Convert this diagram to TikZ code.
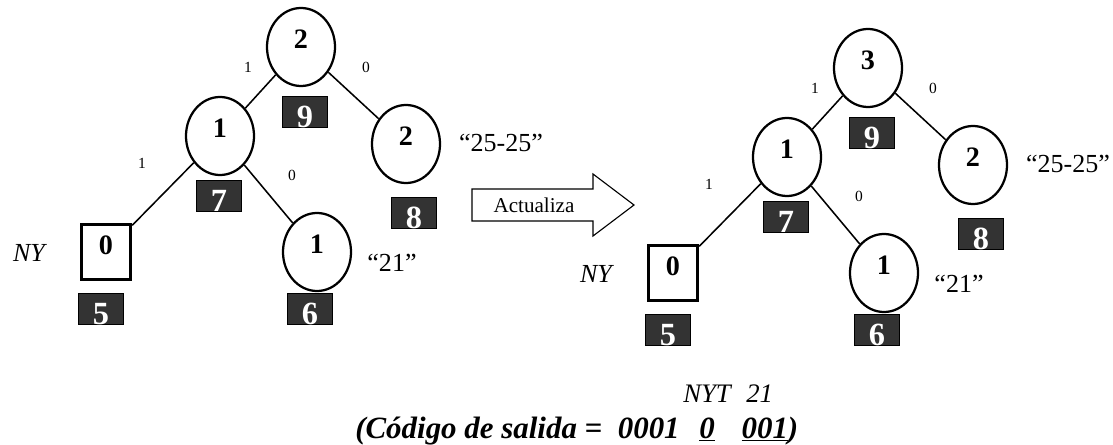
\documentclass[tikz,border=0pt]{standalone}
\usepackage{fontspec}
\setmainfont{Liberation Serif}
\usepackage{tikz}
\usetikzlibrary{shapes.geometric}
\definecolor{grisorden}{HTML}{333333}
\tikzset{
    peso/.style = {ellipse, draw, line width=1.6pt, minimum width=1.7cm, minimum height=1.95cm,
                   inner sep=0pt, font=\fontsize{20}{20}\selectfont\bfseries,
                   text height=0.48cm, text depth=0.4cm},
    nyt/.style = {rectangle, draw, line width=2.4pt, minimum width=1.225cm, minimum height=1.375cm,
                  inner sep=0pt, font=\fontsize{20}{20}\selectfont\bfseries,
                  text height=0.52cm, text depth=0.4cm},
    orden/.style = {rectangle, draw, line width=0.6pt, fill=grisorden, text=white,
                    minimum width=1.125cm, minimum height=0.775cm, inner sep=0pt,
                    font=\fontsize{23}{23}\selectfont\bfseries, text height=0.76cm, text depth=0pt},
    bit/.style = {inner sep=0pt, font=\fontsize{11}{12}\selectfont},
    rotulo/.style = {inner sep=0pt, font=\fontsize{18.5}{18.5}\selectfont},
    rama/.style = {line width=1.1pt}
}

% arbol de Huffman adaptativo: #1 sufijo de los nombres, #2 peso de la raiz
\newcommand{\arbol}[2]{
    \node[peso] (raiz#1) at (301,47) {#2};
    \node[peso] (int#1) at (220,136) {1};
    \node[peso] (der#1) at (406,144) {2};
    \node[peso] (hoja#1) at (317,252) {1};
    \node[nyt] (nyt#1) at (106,252) {0};
    \node[orden] (n9#1) at (305,112) {9};
    \node[orden] (n7#1) at (219,196) {7};
    \node[orden] (n8#1) at (414,213) {8};
    \node[orden] (n5#1) at (101,309) {5};
    \node[orden] (n6#1) at (310,309) {6};
    \draw[rama] (raiz#1) -- (int#1)
                (raiz#1) -- (der#1)
                (int#1) -- (nyt#1)
                (int#1) -- (hoja#1);
    \node[bit] (b1#1) at (248,67) {1};
    \node[bit] (b2#1) at (366,67) {0};
    \node[bit] (b3#1) at (142,163) {1};
    \node[bit] (b4#1) at (292,175) {0};
    \node[rotulo, font=\fontsize{18.5}{18.5}\selectfont\itshape] (ny#1) at (29,253) {NY};
    \node[rotulo] (s21#1) at (392,263) {“21”};
    \node[rotulo] (s25#1) at (501,143) {“25-25”};
}

\begin{document}
\begin{tikzpicture}[x=0.025cm, y=-0.025cm]
    \useasboundingbox (0,0) rectangle (1113,445);

    \arbol{a}{2}
    \begin{scope}[shift={(567,21)}]
        \arbol{b}{3}
    \end{scope}

    % flecha de actualizacion
    \draw[line width=0.8pt] (472,189) -- (593,189) -- (593,174) -- (634,205)
        -- (593,236) -- (593,221) -- (472,221) -- cycle;
    \node[inner sep=0pt, font=\fontsize{15}{15}\selectfont] (actualiza) at (534,205) {Actualiza};

    % codigo emitido
    \node[anchor=base west, inner sep=0pt, font=\fontsize{19}{19}\selectfont\itshape] (claves)
        at (683,403) {NYT\hspace{11pt}21};
    \node[anchor=base west, inner sep=0pt, font=\fontsize{22}{22}\selectfont\bfseries\itshape] (salida)
        at (355,438) {(Código de salida =\ \ 0001\hspace{14pt}\underline{0}\hspace{19pt}\underline{001})};
\end{tikzpicture}
\end{document}
